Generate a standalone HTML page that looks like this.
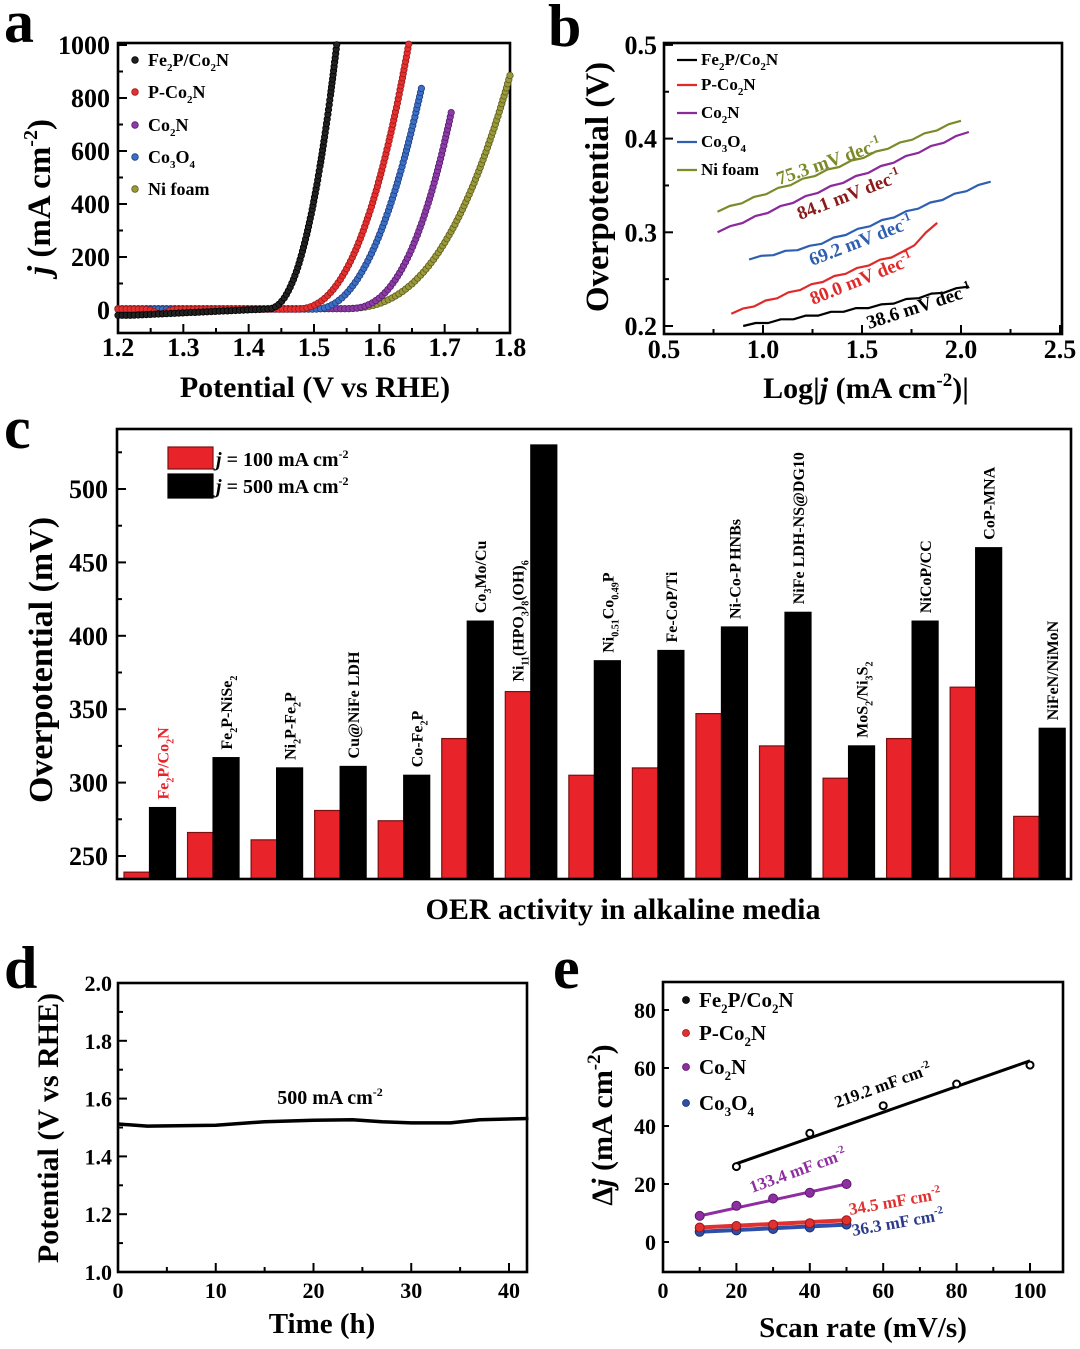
<!DOCTYPE html>
<html><head><meta charset="utf-8">
<style>
html,body{margin:0;padding:0;background:#fff;}
svg{display:block;font-family:"Liberation Serif","DejaVu Serif",serif;font-weight:bold;}
</style></head>
<body>
<svg id="s" width="1080" height="1349" viewBox="0 0 1080 1349" xmlns="http://www.w3.org/2000/svg"></svg>
<script>
const S=document.getElementById('s');
let out='';
function fmt(str,sz){
  const d=Math.round(sz*0.3);
  return str.replace(/([_^])\{([^}]*)\}/g,(m,t,c)=>{
    const dy=t=='_'?d:-Math.round(sz*0.4);
    return `<tspan font-size="${Math.round(sz*0.62)}" dy="${dy}">${c}</tspan><tspan dy="${-dy}">&#8203;</tspan>`;
  });
}
function T(x,y,str,sz,opt={}){
  const a=opt.anchor||'start', fill=opt.fill||'#000', rot=opt.rot||0;
  out+=`<text x="${x}" y="${y}" font-size="${sz}" text-anchor="${a}" fill="${fill}" ${rot?`transform="rotate(${rot} ${x} ${y})"`:''}>${fmt(str,sz)}</text>`;
}
function L(x1,y1,x2,y2,c='#000',w=2){out+=`<line x1="${x1}" y1="${y1}" x2="${x2}" y2="${y2}" stroke="${c}" stroke-width="${w}"/>`;}
function R(x,y,w,h,f,st){out+=`<rect x="${x}" y="${y}" width="${w}" height="${h}" fill="${f}" ${st?`stroke="${st}" stroke-width="1.2"`:''}/>`;}
function box(x1,y1,x2,y2){out+=`<rect x="${x1}" y="${y1}" width="${x2-x1}" height="${y2-y1}" fill="none" stroke="#000" stroke-width="2.6"/>`;}
function PL(pts,c,w){out+=`<polyline points="${pts.map(p=>p[0].toFixed(1)+','+p[1].toFixed(1)).join(' ')}" fill="none" stroke="${c}" stroke-width="${w}" stroke-linejoin="round"/>`;}
function C(x,y,r,f,st,sw=0.8){out+=`<circle cx="${x.toFixed(1)}" cy="${y.toFixed(1)}" r="${r}" fill="${f}" stroke="${st}" stroke-width="${sw}"/>`;}

// ================= Panel a =================
{
const X=v=>118+(v-1.2)/0.6*392, Y=j=>310-j*0.265;
T(4,42,'a',60);
box(118,43,510,333);
for(let k=0;k<=12;k++){const v=1.2+k*0.05,x=X(v);L(x,333,x,k%2?328:324);}
for(let k=0;k<=10;k++){const y=Y(k*100);L(118,y,k%2?123:127,y);}
for(let k=0;k<=6;k++)T(X(1.2+k*0.1),356,(1.2+k*0.1).toFixed(1),26,{anchor:'middle'});
for(let k=0;k<=5;k++)T(110,Y(k*200)+9,String(k*200),26,{anchor:'end'});
T(50,197,'<tspan font-style="italic">j</tspan> (mA cm^{-2})',33,{anchor:'middle',rot:-90});
T(315,397,'Potential (V vs RHE)',30,{anchor:'middle'});
const cur=[
 {c:'#9a9a3a',s:'#5c5c1a',V0:1.54,Ve:1.80,J:880,p:2.6,b:()=>5},
 {c:'#8e3aa8',s:'#55206a',V0:1.55,Ve:1.71,J:740,p:2.5,b:()=>5},
 {c:'#3c6fc4',s:'#1e3f80',V0:1.50,Ve:1.665,J:840,p:2.2,b:()=>3},
 {c:'#e53030',s:'#a01818',V0:1.47,Ve:1.645,J:1000,p:2.4,b:v=>3-18*Math.exp(-Math.pow((v-1.265)/0.012,2))},
 {c:'#222',s:'#000',V0:1.43,Ve:1.535,J:1000,p:2.2,b:v=>-20+25*Math.min(1,Math.max(0,(v-1.22)/0.22))},
];
for(const cv of cur){
  let last=null;
  for(let v=1.2;v<=cv.Ve+1e-9;v+=0.0002){
    let j=cv.b(v);
    if(v>cv.V0) j+=cv.J*Math.pow((v-cv.V0)/(cv.Ve-cv.V0),cv.p);
    const x=X(v),y=Y(j);
    if(!last||Math.hypot(x-last[0],y-last[1])>=4){C(x,y,3.2,cv.c,cv.s,0.8);last=[x,y];}
  }
}
const lg=[['Fe_{2}P/Co_{2}N','#222','#000'],['P-Co_{2}N','#e53030','#a01818'],['Co_{2}N','#8e3aa8','#55206a'],['Co_{3}O_{4}','#3c6fc4','#1e3f80'],['Ni foam','#9a9a3a','#5c5c1a']];
const ly=[60,92,125,157,189];
lg.forEach((g,i)=>{C(135,ly[i],3.3,g[1],g[2]);T(148,ly[i]+6,g[0],18);});
}

// ================= Panel b =================
{
const X=v=>664+(v-0.5)*198, Y=e=>326-(e-0.2)*937;
T(548,46,'b',60);
box(664,43,1062,334);
for(let k=0;k<=8;k++){const x=X(0.5+k*0.25);L(x,334,x,k%2?329:325);}
for(let k=0;k<=6;k++){const y=Y(0.2+k*0.05);L(664,y,k%2?669:673,y);}
for(let k=0;k<=4;k++)T(X(0.5+k*0.5),358,(0.5+k*0.5).toFixed(1),26,{anchor:'middle'});
for(let k=0;k<=3;k++)T(657,Y(0.2+k*0.1)+9,(0.2+k*0.1).toFixed(1),26,{anchor:'end'});
T(608,187,'Overpotential (V)',33,{anchor:'middle',rot:-90});
T(866,398,'Log|<tspan font-style="italic">j</tspan> (mA cm^{-2})|',30,{anchor:'middle'});
function line(pts,c){PL(pts.map(p=>[X(p[0]),Y(p[1])]),c,2.2);}
function jit(a,b,n,f){const r=[];for(let i=0;i<=n;i++){const x=a+(b-a)*i/n;r.push([x,f(x)+(i%2?0.0012:-0.0008)*(i>0&&i<n)]);}return r;}
line(jit(0.77,2.0,20,x=>0.322+(x-0.77)*0.0789),'#7d8a2a');
line(jit(0.77,2.04,20,x=>0.300+(x-0.77)*0.0843),'#8b2a9a');
line(jit(0.93,2.15,20,x=>x<1.25?0.271+(x-0.93)*0.044:0.285+(x-1.25)*0.0767),'#2e5fb0');
line(jit(0.84,1.88,18,x=>x<1.73?0.213+(x-0.84)*0.0753:0.28+(x-1.73)*0.2),'#e02a2a');
line(jit(0.9,2.04,18,x=>x<1.6?0.200+(x-0.9)*0.0314:0.222+(x-1.6)*0.0455),'#000');
const lc=['#000','#e02a2a','#8b2a9a','#2e5fb0','#7d8a2a'],ln=['Fe_{2}P/Co_{2}N','P-Co_{2}N','Co_{2}N','Co_{3}O_{4}','Ni foam'],yy=[60,85,113,142,170];
ln.forEach((n,i)=>{L(677,yy[i],697,yy[i],lc[i],2.2);T(701,yy[i]+5,n,17);});
T(779,185,'75.3 mV dec^{-1}',19,{fill:'#7d8a2a',rot:-19});
T(800,220,'84.1 mV dec^{-1}',19,{fill:'#8b1a1a',rot:-21});
T(812,266,'69.2 mV dec^{-1}',19,{fill:'#2e5fb0',rot:-21});
T(813,305,'80.0 mV dec^{-1}',19,{fill:'#e02a2a',rot:-22});
T(869,329,'38.6 mV dec^{-1}',19,{fill:'#000',rot:-18});
}

// ================= Panel c =================
{
const Y=m=>856-(m-250)*1.468;
T(4,448,'c',60);
const red=[239,266,261,281,274,330,362,305,310,347,325,303,330,365,277];
const blk=[283,317,310,311,305,410,530,383,390,406,416,325,410,460,337];
const labs=['Fe_{2}P/Co_{2}N','Fe_{2}P-NiSe_{2}','Ni_{2}P-Fe_{2}P','Cu@NiFe LDH','Co-Fe_{2}P','Co_{3}Mo/Cu','Ni_{11}(HPO_{3})_{8}(OH)_{6}','Ni_{0.51}Co_{0.49}P','Fe-CoP/Ti','Ni-Co-P HNBs','NiFe LDH-NS@DG10','MoS_{2}/Ni_{3}S_{2}','NiCoP/CC','CoP-MNA','NiFeN/NiMoN'];
const base=879;
for(let i=0;i<15;i++){
  const x0=124+i*63.55;
  const yr=Y(red[i]),yb=Y(blk[i]);
  R(x0,yr,25.5,base-yr,'#e8232a','#7a1010');
  R(x0+25.5,yb,26,base-yb,'#000','#000');
  if(i==6) T(x0+18,yr-10,labs[i],16,{rot:-90});
  else T(x0+25.5+13+6,yb-8,labs[i],16,{rot:-90,fill:i==0?'#e8232a':'#000'});
}
box(117,429,1071,879);
for(let k=0;k<=11;k++){const m=250+k*25,y=Y(m);if(y<430)continue;L(117,y,k%2?122:126,y);}
for(let k=0;k<=5;k++)T(108,Y(250+k*50)+9,String(250+k*50),26,{anchor:'end'});
T(52,660,'Overpotential (mV)',34,{anchor:'middle',rot:-90});
T(623,919,'OER activity in alkaline media',30,{anchor:'middle'});
R(168,447,45,22,'#e8232a','#7a1010');
R(168,474,45,24,'#000','#000');
T(216,466,'<tspan font-style="italic">j</tspan> = 100 mA cm^{-2}',20);
T(216,493,'<tspan font-style="italic">j</tspan> = 500 mA cm^{-2}',20);
}

// ================= Panel d =================
{
const X=t=>118+t*9.775, Y=v=>1272-(v-1.0)*289;
T(4,988,'d',60);
box(118,983,527,1272);
for(let k=0;k<=8;k++){const x=X(k*5);L(x,1272,x,k%2?1267:1263);}
for(let k=0;k<=10;k++){const y=Y(1+k*0.1);L(118,y,k%2?123:127,y);}
for(let k=0;k<=4;k++)T(X(k*10),1298,String(k*10),22,{anchor:'middle'});
for(let k=0;k<=5;k++)T(112,Y(1+k*0.2)+8,(1+k*0.2).toFixed(1),22,{anchor:'end'});
const pts=[[0,1.512],[3,1.505],[10,1.508],[15,1.52],[20,1.525],[24,1.527],[27,1.52],[30,1.516],[34,1.516],[37,1.527],[42,1.531]];
PL(pts.map(p=>[X(p[0]),Y(p[1])]),'#000',3.5);
T(330,1104,'500 mA cm^{-2}',20,{anchor:'middle'});
T(58,1128,'Potential (V vs RHE)',30,{anchor:'middle',rot:-90});
T(322,1333,'Time (h)',29,{anchor:'middle'});
}

// ================= Panel e =================
{
const X=s=>663+s*3.67, Y=j=>1242-j*2.9;
T(553,988,'e',60);
box(663,982,1063,1272);
for(let k=0;k<=10;k++){const x=X(k*10);L(x,1272,x,k%2?1267:1263);}
for(let k=0;k<=4;k++){const y=Y(k*20);L(663,y,669,y);}
for(let k=0;k<=5;k++)T(X(k*20),1298,String(k*20),22,{anchor:'middle'});
for(let k=0;k<=4;k++)T(656,Y(k*20)+8,String(k*20),22,{anchor:'end'});
const ser=[
 {c:'#2e4fa8',s:'#1b2d70',x:[10,20,30,40,50],y:[3.5,4,4.5,5,6],w:4},
 {c:'#e03030',s:'#9a1515',x:[10,20,30,40,50],y:[5,5.5,6,6.5,7.5],w:4},
 {c:'#8e2ea0',s:'#5a1868',x:[10,20,30,40,50],y:[9,12.5,15,17,20],w:3},
 {c:'#000',s:'#000',x:[20,40,60,80,100],y:[26,37.5,47,54.5,61],w:3},
];
for(const sr of ser){
  const n=sr.x.length;
  if(sr.c=='#000') PL([[X(20),Y(27)],[X(100),Y(62.5)]],'#000',3);
  else PL([[X(sr.x[0]),Y(sr.y[0])],[X(sr.x[n-1]),Y(sr.y[n-1])]],sr.c,sr.w);
  for(let i=0;i<n;i++){
    if(sr.c=='#000') C(X(sr.x[i]),Y(sr.y[i]),3.5,'#fff','#000',2);
    else C(X(sr.x[i]),Y(sr.y[i]),4.5,sr.c,sr.s,1);
  }
}
const lg=[['Fe_{2}P/Co_{2}N','#111','#000'],['P-Co_{2}N','#e03030','#9a1515'],['Co_{2}N','#8e2ea0','#5a1868'],['Co_{3}O_{4}','#2e4fa8','#1b2d70']];
const ly=[1000,1033,1067,1103];
lg.forEach((g,i)=>{C(686,ly[i],3.5,g[1],g[2]);T(699,ly[i]+7,g[0],21);});
T(837,1108,'219.2 mF cm^{-2}',17,{rot:-20});
T(752,1193,'133.4 mF cm^{-2}',17,{fill:'#8e2ea0',rot:-20});
T(850,1215,'34.5 mF cm^{-2}',17,{fill:'#e03030',rot:-10});
T(853,1236,'36.3 mF cm^{-2}',17,{fill:'#2b3a8a',rot:-10});
T(612,1125,'Δ<tspan font-style="italic">j</tspan> (mA cm^{-2})',30,{anchor:'middle',rot:-90});
T(863,1337,'Scan rate (mV/s)',29,{anchor:'middle'});
}
S.innerHTML=out;
</script>
</body></html>
